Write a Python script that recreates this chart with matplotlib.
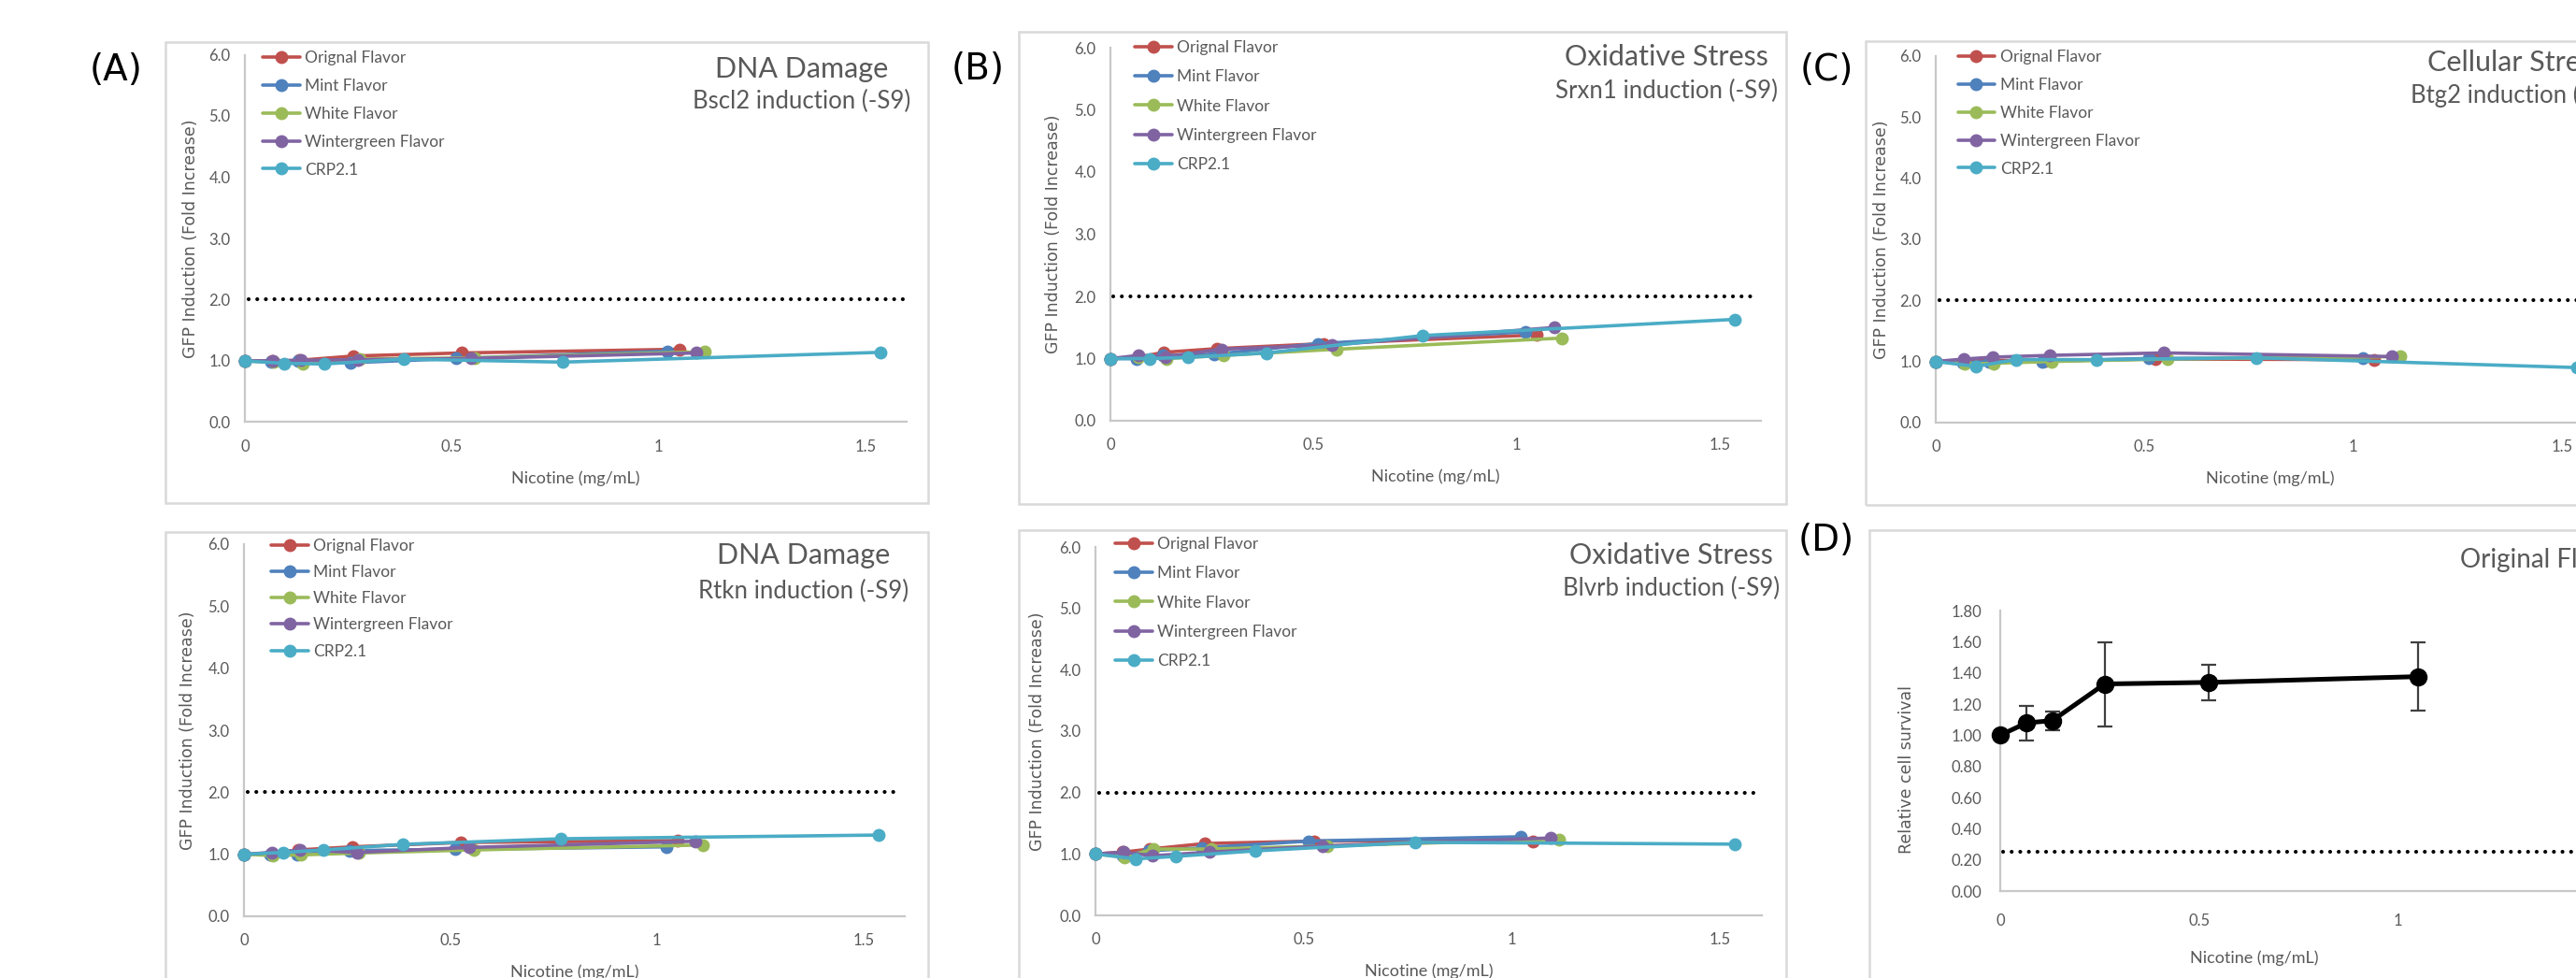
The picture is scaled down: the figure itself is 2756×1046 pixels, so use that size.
import matplotlib
matplotlib.use("Agg")
import matplotlib.pyplot as plt
from matplotlib.patches import Rectangle

plt.rcParams['font.family'] = ['Lato', 'DejaVu Sans']

W, H = 2756, 1046

# ---------------- data ----------------
series_names = ["Orignal Flavor", "Mint Flavor", "White Flavor", "Wintergreen Flavor", "CRP2.1"]
series_colors = ["#C0504D", "#4F81BD", "#9BBB59", "#8064A2", "#4BACC6"]

x_orig = [0, 0.066, 0.131, 0.2625, 0.525, 1.05]
x_mint = [0, 0.064, 0.128, 0.256, 0.511, 1.022]
x_white = [0, 0.0695, 0.139, 0.278, 0.556, 1.112]
x_winter = [0, 0.068, 0.136, 0.273, 0.546, 1.092]
x_crp = [0, 0.096, 0.192, 0.384, 0.768, 1.536]

bscl2_orig = [1.00, 1.00, 1.01, 1.08, 1.13, 1.19]
bscl2_mint = [1.00, 0.99, 1.00, 0.97, 1.04, 1.16]
bscl2_white = [1.00, 0.98, 0.96, 1.03, 1.05, 1.15]
bscl2_winter = [1.00, 1.00, 1.01, 1.02, 1.04, 1.13]
bscl2_crp = [1.00, 0.96, 0.95, 1.03, 0.98, 1.14]

srxn1_orig = [1.00, 1.02, 1.10, 1.16, 1.24, 1.38]
srxn1_mint = [1.00, 1.00, 1.05, 1.07, 1.24, 1.43]
srxn1_white = [1.00, 1.02, 1.00, 1.05, 1.15, 1.33]
srxn1_winter = [1.00, 1.05, 1.03, 1.15, 1.22, 1.50]
srxn1_crp = [1.00, 1.00, 1.02, 1.09, 1.37, 1.63]

btg2_orig = [1.00, 1.00, 1.02, 1.01, 1.04, 1.03]
btg2_mint = [1.00, 0.98, 1.00, 1.00, 1.05, 1.06]
btg2_white = [1.00, 0.96, 0.97, 1.00, 1.04, 1.08]
btg2_winter = [1.00, 1.04, 1.07, 1.10, 1.14, 1.08]
btg2_crp = [1.00, 0.92, 1.03, 1.03, 1.06, 0.90]

rtkn_orig = [1.00, 1.00, 1.07, 1.12, 1.19, 1.22]
rtkn_mint = [1.00, 1.00, 0.99, 1.06, 1.08, 1.12]
rtkn_white = [1.00, 0.98, 0.99, 1.02, 1.07, 1.15]
rtkn_winter = [1.00, 1.03, 1.07, 1.03, 1.11, 1.21]
rtkn_crp = [1.00, 1.03, 1.07, 1.16, 1.25, 1.31]

blvrb_orig = [1.00, 1.03, 1.08, 1.17, 1.21, 1.21]
blvrb_mint = [1.00, 0.97, 1.05, 1.10, 1.21, 1.28]
blvrb_white = [1.00, 0.95, 1.08, 1.08, 1.13, 1.24]
blvrb_winter = [1.00, 1.03, 0.97, 1.03, 1.13, 1.26]
blvrb_crp = [1.00, 0.92, 0.96, 1.05, 1.19, 1.16]

survival_x = [0, 0.066, 0.131, 0.2625, 0.525, 1.05]
survival_y = [1.00, 1.079, 1.094, 1.329, 1.339, 1.376]
survival_err = [0.0, 0.11, 0.06, 0.27, 0.115, 0.22]

gfp_threshold = 2.0
survival_threshold = 0.25

gfp_yticks = [0, 1, 2, 3, 4, 5, 6]
gfp_yticklabels = ["0.0", "1.0", "2.0", "3.0", "4.0", "5.0", "6.0"]
xticks = [0, 0.5, 1, 1.5]
xticklabels = ["0", "0.5", "1", "1.5"]
surv_yticks = [0, 0.2, 0.4, 0.6, 0.8, 1.0, 1.2, 1.4, 1.6, 1.8]
surv_yticklabels = ["0.00", "0.20", "0.40", "0.60", "0.80", "1.00", "1.20", "1.40", "1.60", "1.80"]

# ---------------- helpers ----------------
GRAY_TXT = "#595959"
AXIS_GRAY = "#C8C8C8"
BOX_GRAY = "#D9D9D9"


def rect(l, r, t, b):
    return [l / W, 1 - b / H, (r - l) / W, (b - t) / H]


def fx(x):
    return x / W


def fy(y):
    return 1 - y / H


fig = plt.figure(figsize=(W / 100, H / 100), dpi=100)
fig.patch.set_facecolor("white")

# chart-area boxes
boxes = [(177, 45, 993, 538), (177, 569, 993, 1120), (1090, 34, 1911, 539),
         (1090, 567, 1911, 1120), (1996, 44, 2820, 540), (2000, 567, 2820, 1120)]
for (l, t, r, b) in boxes:
    fig.patches.append(Rectangle((fx(l), fy(b)), (r - l) / W, (b - t) / H,
                                 transform=fig.transFigure, fill=False,
                                 edgecolor=BOX_GRAY, lw=1.8, zorder=0))


def style_axes(ax, wpx, hpx, ylab, ylab_off, xlab_off, yticks, yticklabels, ylim, ylab_y=0.5, xlab_x=0.5):
    ax.patch.set_alpha(0)
    for s in ["top", "right"]:
        ax.spines[s].set_visible(False)
    for s in ["left", "bottom"]:
        ax.spines[s].set_color(AXIS_GRAY)
        ax.spines[s].set_linewidth(1.6)
    ax.set_xlim(0, 1.6)
    ax.set_ylim(*ylim)
    ax.set_xticks(xticks)
    ax.set_xticklabels(xticklabels)
    ax.set_yticks(yticks)
    ax.set_yticklabels(yticklabels)
    ax.tick_params(length=0, labelsize=12, labelcolor=GRAY_TXT)
    ax.tick_params(axis="x", pad=13)
    ax.tick_params(axis="y", pad=11)
    ax.set_ylabel(ylab, fontsize=12.5, color=GRAY_TXT, family="DejaVu Sans")
    ax.yaxis.label.set(va="center", ha="center", rotation_mode="anchor")
    ax.yaxis.set_label_coords(-ylab_off / wpx, ylab_y)
    ax.set_xlabel("Nicotine (mg/mL)", fontsize=13, color=GRAY_TXT)
    ax.xaxis.label.set(va="center", ha="center")
    ax.xaxis.set_label_coords(xlab_x, -xlab_off / hpx)


series_x = [x_orig, x_mint, x_white, x_winter, x_crp]

gfp_panels = [
    dict(px=(262, 970, 58.5, 451.5), data=[bscl2_orig, bscl2_mint, bscl2_white, bscl2_winter, bscl2_crp],
         title="DNA Damage", sub="Bscl2 induction (-S9)", tc=(858, 74, 108.5), leg=(281, 62), sp=0.8, yoff=58),
    dict(px=(261, 968, 582, 980), data=[rtkn_orig, rtkn_mint, rtkn_white, rtkn_winter, rtkn_crp],
         title="DNA Damage", sub="Rtkn induction (-S9)", tc=(860, 594, 632), leg=(290, 584), sp=0.7, yoff=60),
    dict(px=(1188, 1883.5, 51, 450), data=[srxn1_orig, srxn1_mint, srxn1_white, srxn1_winter, srxn1_crp],
         title="Oxidative Stress", sub="Srxn1 induction (-S9)", tc=(1783, 61, 97), leg=(1214, 51), sp=0.88, yoff=61),
    dict(px=(1172, 1885, 585, 979), data=[blvrb_orig, blvrb_mint, blvrb_white, blvrb_winter, blvrb_crp],
         title="Oxidative Stress", sub="Blvrb induction (-S9)", tc=(1788, 594, 629), leg=(1193, 582), sp=0.88, yoff=62),
    dict(px=(2071, 2786, 59.6, 452), data=[btg2_orig, btg2_mint, btg2_white, btg2_winter, btg2_crp],
         title="Cellular Stress", sub="Btg2 induction (-S9)", tc=(2692, 67, 101.6), leg=(2094.5, 61), sp=0.8, yoff=58),
]

for p in gfp_panels:
    l, r, t, b = p["px"]
    ax = fig.add_axes(rect(l, r, t, b))
    for xs, ys, name, c in zip(series_x, p["data"], series_names, series_colors):
        ax.plot(xs, ys, color=c, lw=2.6, marker="o", ms=9, label=name,
                solid_capstyle="round", clip_on=False, zorder=3)
    ax.axhline(gfp_threshold, xmin=0.005, xmax=0.995, color="black", lw=3,
               linestyle=(0, (0.01, 2.2)), dash_capstyle="round", zorder=2)
    style_axes(ax, r - l, b - t, "GFP Induction (Fold Increase)", p["yoff"], 60,
               gfp_yticks, gfp_yticklabels, (0, 6))
    lx, ly = p["leg"]
    ax.legend(loc="upper left", bbox_to_anchor=(fx(lx), fy(ly - 8)), bbox_transform=fig.transFigure,
              frameon=False, fontsize=12.5, handlelength=2.3, handletextpad=0.3,
              labelspacing=p["sp"], borderpad=0, borderaxespad=0, labelcolor=GRAY_TXT)
    tcx, tcy, scy = p["tc"]
    fig.text(fx(tcx), fy(tcy), p["title"], fontsize=22, color=GRAY_TXT, ha="center", va="center")
    fig.text(fx(tcx), fy(scy), p["sub"], fontsize=18.5, color=GRAY_TXT, ha="center", va="center")

# ---------------- panel D ----------------
dl, dr, dt, db = 2140, 2821, 653, 953
axd = fig.add_axes(rect(dl, dr, dt, db))
axd.errorbar(survival_x, survival_y, yerr=survival_err, color="black", lw=3.6, marker="o", ms=13,
             ecolor="#404040", elinewidth=1.6, capsize=6, capthick=1.6, clip_on=False, zorder=3)
axd.axhline(survival_threshold, xmin=0.004, xmax=1, color="black", lw=3,
            linestyle=(0, (0.01, 2.2)), dash_capstyle="round", zorder=2)
style_axes(axd, dr - dl, db - dt, "Relative cell survival", 100, 71.5,
           surv_yticks, surv_yticklabels, (0, 1.8), ylab_y=(db - 823) / (db - dt),
           xlab_x=(2412 - dl) / (dr - dl))
axd.tick_params(axis="y", pad=14)
axd.tick_params(axis="x", pad=17)
fig.text(fx(2632), fy(599), "Original Flavor", fontsize=20, color=GRAY_TXT, ha="left", va="center")

# ---------------- panel letters ----------------
for lab, (x, y) in zip(["(A)", "(B)", "(C)", "(D)"], [(124, 75), (1046, 74), (1954, 75), (1954, 578)]):
    fig.text(fx(x), fy(y), lab, fontsize=28, color="black", ha="center", va="center", family="DejaVu Sans")

fig.savefig("out.png", dpi=100, facecolor="white")
